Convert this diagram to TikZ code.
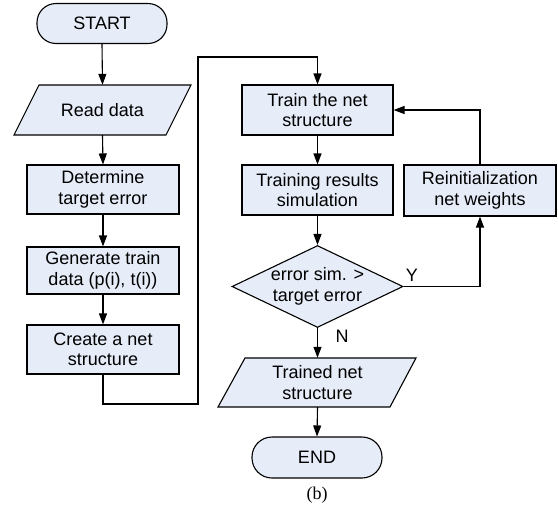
\documentclass[tikz,border=0pt]{standalone}
\usepackage{fontspec}
\setmainfont{Liberation Sans}
\newfontfamily\capfont{Liberation Serif}
\usetikzlibrary{arrows.meta,shapes.geometric}
\definecolor{boxfill}{HTML}{E6ECF8}
\begin{document}
\begin{tikzpicture}[x=1pt,y=-1pt,
  every node/.style={font=\fontsize{18}{20.5}\selectfont, align=center, inner sep=0pt},
  procbox/.style={draw, fill=boxfill, line width=1.1pt, minimum width=152pt, minimum height=49pt},
  termbox/.style={draw, fill=boxfill, line width=1.1pt, rounded corners=19pt, minimum width=130pt, minimum height=40pt},
  shapeline/.style={draw, fill=boxfill, line width=1.1pt},
  conn/.style={line width=1.1pt, -{Triangle[length=11pt,width=8pt]}},
  lbl/.style={font=\fontsize{18}{20}\selectfont}
]
\useasboundingbox (0,0) rectangle (558,512);

% START
\node[termbox] (start) at (102,23.5) {START};

% Read data parallelogram
\path[shapeline] (39,85) -- (191,85) -- (166,135) -- (14,135) -- cycle;
\node[minimum width=150pt, minimum height=50pt] (read) at (102.5,110) {Read data};

\node[procbox] (det) at (103,189.5) {Determine\\target error};
\node[procbox, minimum height=47pt] (gen) at (103,270.5) {Generate train\\data (p(i), t(i))};
\node[procbox] (create) at (103,349.5) {Create a net\\structure};

\node[procbox, minimum width=151pt, minimum height=50pt] (train) at (317.5,110) {Train the net\\structure};
\node[procbox, minimum width=151pt, minimum height=50pt] (sim) at (317.5,190) {Training results\\simulation};
\node[procbox, minimum height=51pt] (reinit) at (480,190.5) {Reinitialization\\net weights};

\node[diamond, draw, fill=boxfill, line width=1.1pt, minimum width=171pt, minimum height=82pt, aspect=2.08] (dec) at (317.5,286.5) {};
\node at (317.5,286.5) {error sim. \textgreater\\target error};

% Trained net parallelogram
\path[shapeline] (245,358) -- (416,358) -- (390,407) -- (218,407) -- cycle;
\node[minimum width=170pt, minimum height=49pt] (trained) at (317.5,382.5) {Trained net\\structure};

\node[termbox, minimum height=41pt, rounded corners=20pt] (end) at (317,457.5) {END};

\node[font=\capfont\fontsize{18}{20}\selectfont] (cap) at (317,495) {(b)};

% connectors
\draw[conn] (start.south) -- (read.north);
\draw[conn] (read.south) -- (det.north);
\draw[conn] (det.south) -- (gen.north);
\draw[conn] (gen.south) -- (create.north);
\coordinate (c1) at (103,404);
\coordinate (c2) at (198,404);
\coordinate (c3) at (198,57);
\coordinate (c4) at (317.5,57);
\draw[conn] (create.south) -- (c1) -- (c2) -- (c3) -- (c4) -- (train.north);
\draw[conn] (train.south) -- (sim.north);
\draw[conn] (sim.south) -- (dec.north);
\draw[conn] (dec.south) -- (trained.north);
\draw[conn] (trained.south) -- (end.north);
\coordinate (r1) at (480,286.5);
\draw[conn] (dec.east) -- (r1) -- (reinit.south);
\coordinate (r2) at (480,110);
\draw[conn] (reinit.north) -- (r2) -- (train.east);

\node[lbl] (ylbl) at (412,275) {Y};
\node[lbl] (nlbl) at (342,336) {N};
\end{tikzpicture}
\end{document}
